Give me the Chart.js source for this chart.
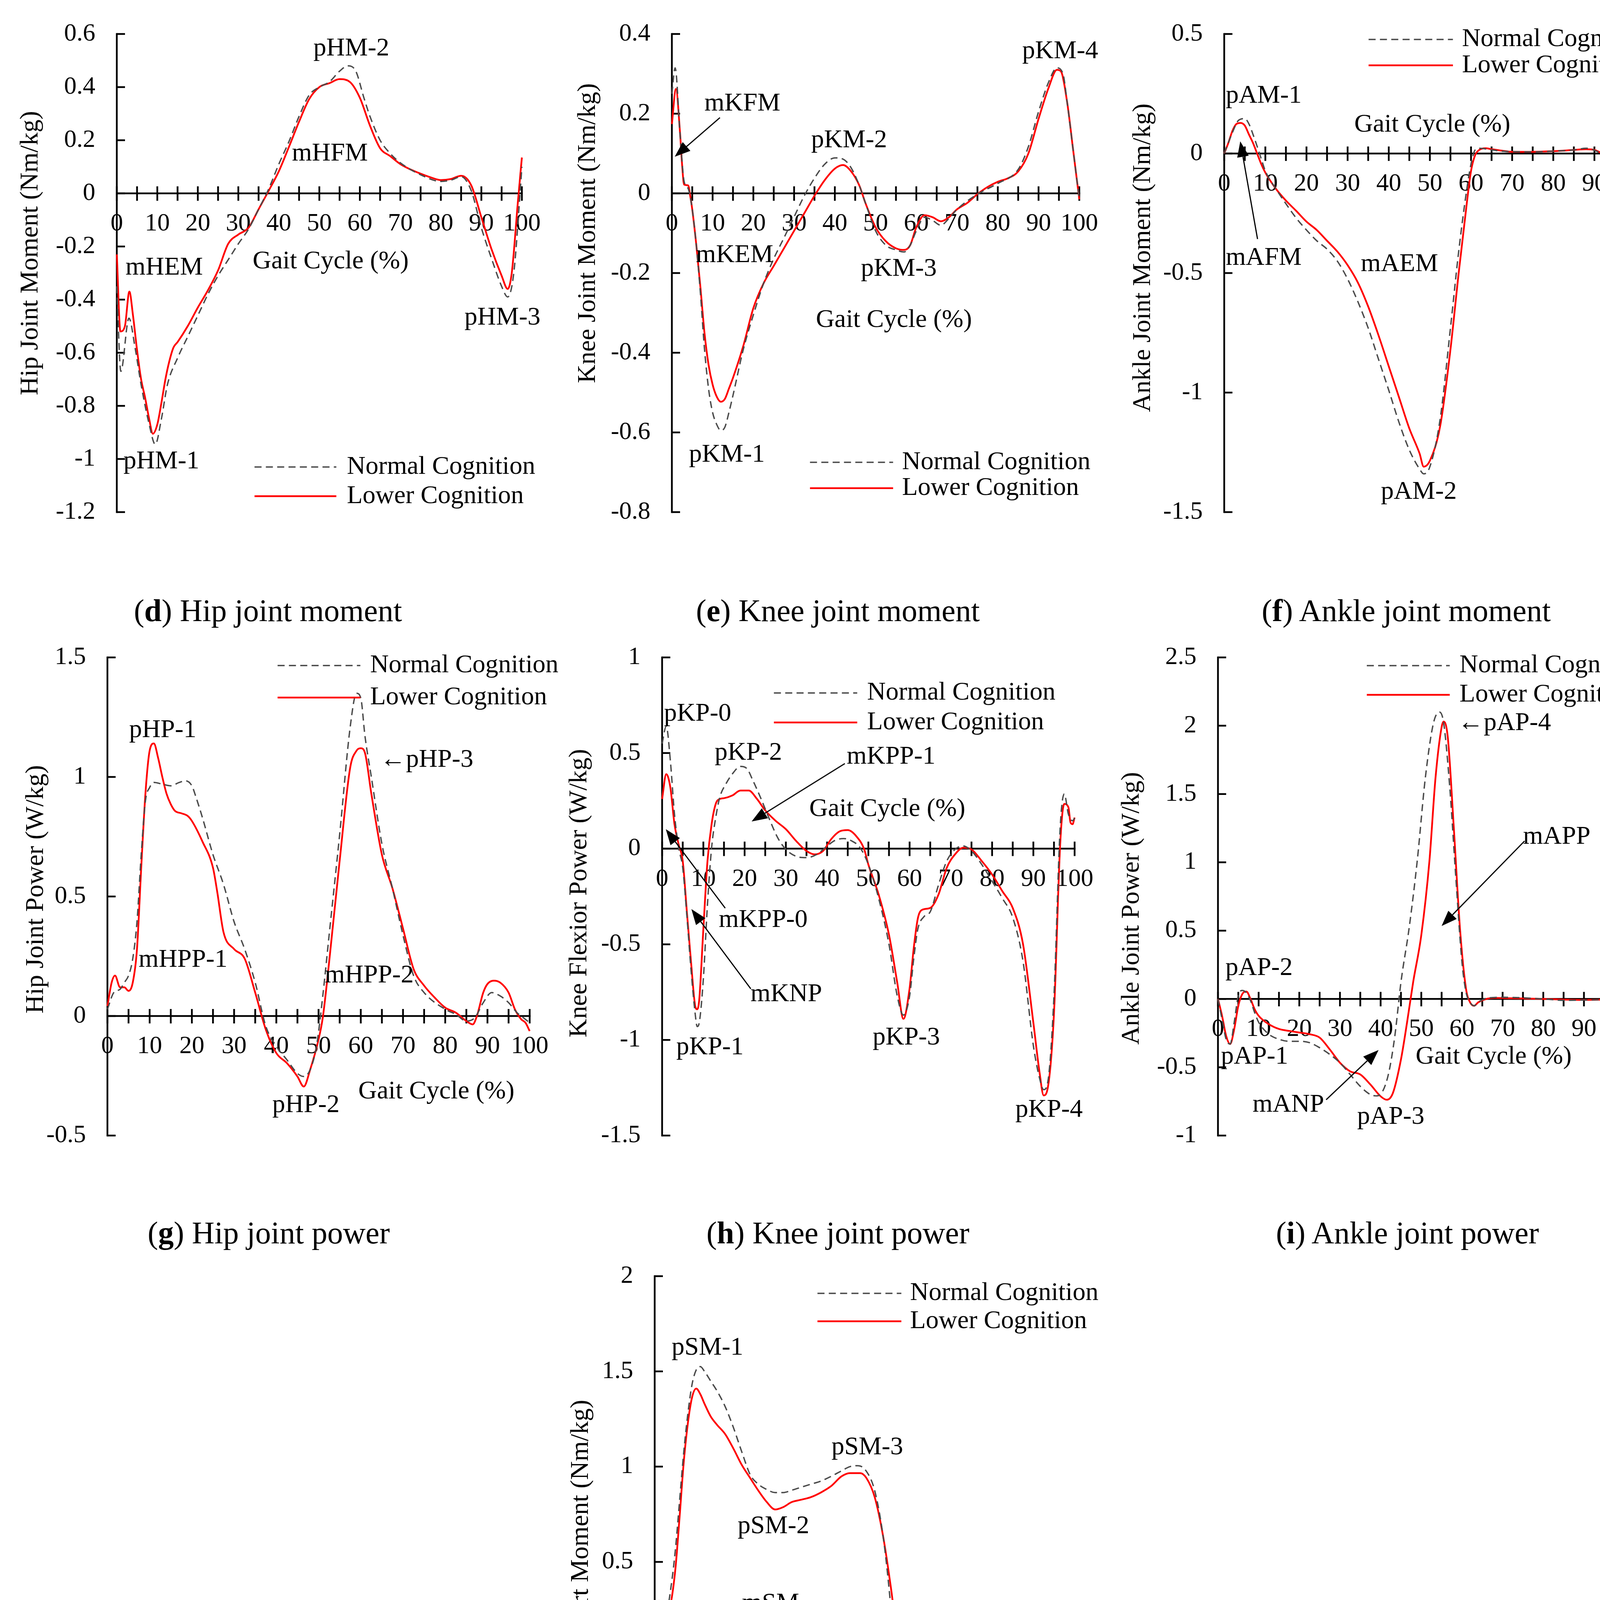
<!DOCTYPE html>
<html>
<head>
<meta charset="utf-8">
<title>Joint moments and powers</title>
<script src="https://cdn.jsdelivr.net/npm/chart.js@4.4.1/dist/chart.umd.min.js"></script>
<style>
  html, body { margin: 0; padding: 0; background: #fff; }
  body { position: relative; width: 4273px; height: 4819px; overflow: hidden;
         font-family: "Liberation Serif", "Times New Roman", serif; }
  canvas { position: absolute; }
  .cap { position: absolute; font-size: 80px; white-space: nowrap; color: #000;
         transform: translate(-50%, -50%); }
</style>
</head>
<body>

<div class="cap" style="left:686px;top:1563px">(<b>d</b>) Hip joint moment</div>
<div class="cap" style="left:2145px;top:1563px">(<b>e</b>) Knee joint moment</div>
<div class="cap" style="left:3600px;top:1563px">(<b>f</b>) Ankle joint moment</div>
<div class="cap" style="left:688px;top:3156px">(<b>g</b>) Hip joint power</div>
<div class="cap" style="left:2145px;top:3156px">(<b>h</b>) Knee joint power</div>
<div class="cap" style="left:3603px;top:3156px">(<b>i</b>) Ankle joint power</div>
<div class="cap" style="left:2142px;top:4746px">(<b>j</b>) Support moment</div>

<script>
// ---- tick labels ----
const xTicks = [0, 10, 20, 30, 40, 50, 60, 70, 80, 90, 100];
const xMinor = [0, 5, 10, 15, 20, 25, 30, 35, 40, 45, 50, 55, 60, 65, 70, 75, 80, 85, 90, 95, 100];
const dYTicks = [-1.2, -1, -0.8, -0.6, -0.4, -0.2, 0, 0.2, 0.4, 0.6];
const eYTicks = [-0.8, -0.6, -0.4, -0.2, 0, 0.2, 0.4];
const fYTicks = [-1.5, -1, -0.5, 0, 0.5];
const gYTicks = [-0.5, 0, 0.5, 1, 1.5];
const hYTicks = [-1.5, -1, -0.5, 0, 0.5, 1];
const iYTicks = [-1, -0.5, 0, 0.5, 1, 1.5, 2, 2.5];
const jYTicks = [-0.5, 0, 0.5, 1, 1.5, 2];

// ---- (d) hip joint moment ----
const dNormX = [0, 1, 3, 4.5, 6, 8, 9.5, 11, 12.5, 15, 17.5, 20, 22.5, 25, 27.5, 30, 32.5, 35, 37.5, 40, 42.5, 45, 47.5, 50, 52.5, 55, 57, 59, 61, 62.5, 65, 67.5, 70, 75, 80, 82.5, 85, 87.5, 90, 92.5, 95, 96.5, 98, 99.5, 100];
const dNormY = [-0.35, -0.67, -0.47, -0.58, -0.72, -0.87, -0.945, -0.85, -0.72, -0.62, -0.54, -0.46, -0.38, -0.31, -0.25, -0.19, -0.135, -0.06, 0.017, 0.11, 0.195, 0.29, 0.37, 0.40, 0.42, 0.46, 0.48, 0.46, 0.36, 0.29, 0.20, 0.15, 0.115, 0.07, 0.045, 0.05, 0.063, 0.01, -0.13, -0.245, -0.35, -0.39, -0.30, -0.01, 0.1];
const dLowX = [0, 0.9, 2, 3.1, 4, 5, 6, 7, 8, 8.9, 10, 11, 12, 13, 14, 15, 17.5, 20, 22.5, 25, 27.5, 30, 32.5, 35, 37.5, 40, 42.5, 45, 47.5, 50, 52.5, 55, 57.5, 60, 62.5, 65, 67.5, 70, 72.5, 75, 77.5, 80, 82.5, 85, 87.5, 90, 92.5, 95, 96.5, 97.5, 99, 100];
const dLowY = [-0.23, -0.52, -0.50, -0.37, -0.46, -0.59, -0.70, -0.77, -0.85, -0.905, -0.87, -0.79, -0.70, -0.63, -0.58, -0.56, -0.50, -0.43, -0.365, -0.29, -0.19, -0.155, -0.13, -0.06, 0.01, 0.083, 0.175, 0.27, 0.355, 0.40, 0.415, 0.43, 0.42, 0.36, 0.255, 0.17, 0.14, 0.11, 0.09, 0.074, 0.06, 0.05, 0.054, 0.066, 0.03, -0.09, -0.21, -0.31, -0.36, -0.30, -0.035, 0.135];

// ---- (e) knee joint moment ----
const eNormX = [0, 0.8, 2, 3, 4, 5, 6, 7, 8, 9, 10, 11, 12, 13, 14, 15, 17.5, 20, 22.5, 25, 27.5, 30, 32.5, 35, 37.5, 40, 42, 44, 46, 47.5, 50, 52.5, 55, 57, 58.5, 60, 62, 64, 66, 68, 70, 75, 80, 85, 87.5, 90, 92.5, 94.5, 96, 97, 98.5, 100];
const eNormY = [0.25, 0.315, 0.15, 0.03, 0.012, -0.04, -0.13, -0.25, -0.39, -0.49, -0.55, -0.58, -0.595, -0.587, -0.55, -0.507, -0.393, -0.305, -0.226, -0.164, -0.112, -0.059, -0.006, 0.038, 0.073, 0.089, 0.086, 0.064, 0.02, -0.024, -0.094, -0.13, -0.142, -0.147, -0.13, -0.094, -0.06, -0.068, -0.08, -0.063, -0.04, -0.002, 0.025, 0.06, 0.117, 0.205, 0.28, 0.315, 0.30, 0.23, 0.108, -0.015];
const eLowX = [0, 1, 2, 2.5, 3, 4, 4.5, 5, 6, 7, 8, 9, 10, 11, 12, 13, 14, 15, 17.5, 20, 22.5, 25, 27.5, 30, 32.5, 35, 37.5, 40, 42, 44, 46, 47.5, 50, 52.5, 55, 57, 58.5, 60, 62, 64, 66, 68, 70, 72.5, 75, 77.5, 80, 82.5, 85, 87.5, 90, 92.5, 94.5, 95.5, 97, 98.5, 100];
const eLowY = [0.174, 0.262, 0.152, 0.073, 0.022, 0.02, -0.006, -0.04, -0.13, -0.235, -0.35, -0.43, -0.48, -0.51, -0.523, -0.516, -0.49, -0.463, -0.384, -0.288, -0.226, -0.182, -0.138, -0.094, -0.05, -0.006, 0.033, 0.062, 0.071, 0.055, 0.02, -0.024, -0.085, -0.12, -0.138, -0.142, -0.13, -0.085, -0.055, -0.06, -0.07, -0.06, -0.04, -0.024, -0.002, 0.016, 0.029, 0.038, 0.055, 0.1, 0.187, 0.266, 0.31, 0.306, 0.23, 0.108, -0.015];

// ---- (f) ankle joint moment ----
const fNormX = [0, 2, 3.5, 5, 6, 7, 8, 9, 10, 12.5, 15, 17.5, 20, 22.5, 25, 27.5, 30, 32.5, 35, 37.5, 40, 42.5, 45, 47.5, 48.5, 50, 52.5, 55, 57, 59, 60, 61, 62, 64, 67.5, 75, 80, 85, 88, 92, 95, 98, 100];
const fNormY = [0, 0.088, 0.139, 0.146, 0.124, 0.08, 0.03, -0.022, -0.073, -0.146, -0.21, -0.27, -0.32, -0.365, -0.40, -0.45, -0.525, -0.62, -0.73, -0.86, -0.99, -1.125, -1.24, -1.32, -1.34, -1.31, -1.11, -0.73, -0.41, -0.146, -0.044, 0.015, 0.022, 0.018, 0.01, 0.007, 0.01, 0.015, 0.022, 0, -0.012, -0.003, 0.003];
const fLowX = [0, 1, 2, 3, 4, 5, 6, 7, 8, 9, 10, 12.5, 15, 17.5, 20, 22.5, 25, 27.5, 30, 32.5, 35, 37.5, 40, 42.5, 45, 47.5, 48.5, 50, 52.5, 55, 57, 59, 60, 61, 62, 63.5, 65, 67.5, 70, 75, 80, 85, 88, 90, 92, 94, 96, 98, 100];
const fLowY = [0, 0.044, 0.095, 0.124, 0.128, 0.117, 0.08, 0.044, 0, -0.044, -0.08, -0.146, -0.197, -0.24, -0.285, -0.32, -0.365, -0.41, -0.467, -0.54, -0.64, -0.76, -0.89, -1.02, -1.15, -1.255, -1.31, -1.285, -1.14, -0.82, -0.50, -0.204, -0.073, -0.007, 0.015, 0.022, 0.018, 0.012, 0.007, 0.007, 0.01, 0.015, 0.018, 0.015, 0, -0.01, -0.009, -0.003, 0.003];

// ---- (g) hip joint power ----
const gNormX = [0, 1.5, 3, 4, 5, 6, 7, 8, 9, 10, 11, 13, 15, 17, 18.5, 20, 21, 22.5, 25, 27.5, 30, 32.5, 35, 37.5, 40, 42.5, 45, 46.5, 48, 49.5, 51, 52.5, 55, 57.5, 59, 60, 61, 62.5, 65, 67.5, 70, 72.5, 75, 80, 82.5, 85, 87, 89, 91, 93, 95, 97, 99, 100];
const gNormY = [0.028, 0.098, 0.112, 0.14, 0.169, 0.24, 0.394, 0.675, 0.90, 0.956, 0.977, 0.97, 0.963, 0.977, 0.984, 0.963, 0.914, 0.83, 0.675, 0.55, 0.394, 0.28, 0.14, -0.042, -0.127, -0.183, -0.24, -0.253, -0.225, -0.127, 0.084, 0.338, 0.76, 1.21, 1.35, 1.33, 1.17, 1.0, 0.72, 0.534, 0.338, 0.169, 0.098, 0.028, 0.007, -0.021, -0.007, 0.056, 0.098, 0.084, 0.056, 0.014, -0.014, -0.028];
const gLowX = [0, 1, 1.8, 3, 4, 5, 6, 7, 8, 9, 10, 11, 12, 13, 14, 15, 16, 17.5, 19, 20, 22.5, 25, 26, 27.5, 30, 32.5, 35, 37.5, 40, 42.5, 45, 46.5, 48, 50, 51, 52.5, 55, 57.5, 59, 60, 61, 62.5, 65, 67.5, 70, 72.5, 75, 77.5, 80, 82.5, 85, 86.5, 87.5, 89, 90, 91.5, 93, 95, 96.5, 98, 99, 100];
const gLowY = [0.042, 0.14, 0.169, 0.12, 0.12, 0.105, 0.14, 0.28, 0.62, 0.93, 1.11, 1.14, 1.08, 1.0, 0.93, 0.886, 0.858, 0.848, 0.837, 0.816, 0.73, 0.62, 0.52, 0.35, 0.28, 0.24, 0.098, -0.056, -0.155, -0.197, -0.253, -0.295, -0.225, -0.098, -0.007, 0.225, 0.65, 1.04, 1.11, 1.12, 1.10, 0.93, 0.675, 0.534, 0.366, 0.197, 0.127, 0.077, 0.035, 0.014, -0.021, -0.035, 0, 0.098, 0.134, 0.148, 0.14, 0.098, 0.028, -0.014, -0.028, -0.063];

// ---- (h) knee flexor power ----
const hNormX = [0, 1, 2, 3, 4, 5, 6, 7, 8, 8.5, 9, 10, 11, 12, 13, 14, 15.5, 17, 19, 20.5, 22, 24, 26, 28, 30, 32.5, 35, 37.5, 40, 42, 44, 46, 48, 50, 52.5, 55, 57, 58.5, 60, 61, 62, 63.5, 65, 67, 69, 71, 73, 75, 77.5, 80, 82.5, 85, 87.5, 90, 91.5, 92.5, 93.5, 95, 96.5, 97.5, 98.5, 99.5, 100];
const hNormY = [0.55, 0.64, 0.46, 0.18, 0.005, -0.1, -0.35, -0.63, -0.86, -0.93, -0.91, -0.68, -0.29, 0.005, 0.163, 0.27, 0.34, 0.39, 0.43, 0.42, 0.357, 0.26, 0.155, 0.058, -0.004, -0.04, -0.047, -0.03, 0.014, 0.044, 0.053, 0.04, 0.005, -0.083, -0.26, -0.50, -0.77, -0.87, -0.77, -0.575, -0.42, -0.355, -0.33, -0.19, -0.065, -0.004, 0.014, -0.012, -0.083, -0.17, -0.26, -0.36, -0.59, -1.03, -1.2, -1.26, -1.22, -0.77, 0.11, 0.286, 0.18, 0.146, 0.16];
const hLowX = [0, 1, 2, 3, 4, 5, 6, 7, 8, 8.5, 9, 10, 11, 12, 13, 14, 15, 17, 19, 21, 23, 25, 27.5, 30, 32.5, 35, 37, 39, 41, 43, 45, 47, 49, 50, 52.5, 55, 57, 58.5, 60, 61, 62, 63, 65, 67, 69, 71, 73, 75, 77.5, 80, 82.5, 85, 87.5, 90, 91.5, 92.5, 93.5, 95, 96.5, 97.5, 98.5, 99, 99.5, 100];
const hLowY = [0.26, 0.39, 0.32, 0.128, 0.023, -0.065, -0.33, -0.59, -0.82, -0.84, -0.79, -0.42, -0.065, 0.128, 0.234, 0.26, 0.264, 0.278, 0.304, 0.304, 0.26, 0.20, 0.146, 0.102, 0.04, -0.012, -0.03, -0.012, 0.05, 0.09, 0.097, 0.067, -0.004, -0.083, -0.24, -0.45, -0.70, -0.89, -0.73, -0.52, -0.364, -0.32, -0.31, -0.24, -0.10, -0.03, 0.005, -0.004, -0.065, -0.135, -0.223, -0.31, -0.50, -0.91, -1.17, -1.29, -1.25, -0.86, 0.023, 0.234, 0.216, 0.137, 0.128, 0.163];

// ---- (i) ankle joint power ----
const iNormX = [0, 1, 2, 3, 4, 5, 6, 7, 8, 9, 10, 12.5, 15, 17.5, 20, 22.5, 25, 27.5, 30, 32.5, 35, 37.5, 39, 40.5, 42, 43.5, 45, 47, 49, 51, 53, 54.5, 55.5, 57, 58.5, 60, 61, 62, 63, 64, 66, 70, 80, 85, 90, 100];
const iNormY = [0, -0.148, -0.295, -0.33, -0.17, 0.025, 0.062, 0.044, -0.012, -0.098, -0.17, -0.258, -0.295, -0.31, -0.31, -0.32, -0.357, -0.406, -0.467, -0.553, -0.64, -0.70, -0.71, -0.676, -0.54, -0.27, 0.123, 0.517, 1.01, 1.62, 2.02, 2.10, 2.02, 1.55, 0.886, 0.27, 0.05, -0.025, -0.05, -0.025, 0.005, 0.012, 0, -0.01, -0.008, 0];
const iLowX = [0, 1, 2, 3, 4, 5, 6, 7, 8, 9, 10, 12.5, 15, 17.5, 20, 22.5, 25, 27.5, 30, 32.5, 35, 37.5, 40, 41.5, 43, 45, 46.5, 48, 50, 52, 53.5, 55, 55.5, 56.5, 58, 59.5, 61, 62, 63, 64, 66, 68, 72, 80, 85, 90, 100];
const iLowY = [0, -0.123, -0.27, -0.33, -0.22, -0.05, 0.037, 0.054, 0, -0.074, -0.123, -0.185, -0.22, -0.234, -0.246, -0.258, -0.283, -0.37, -0.467, -0.53, -0.553, -0.627, -0.713, -0.738, -0.69, -0.443, -0.172, 0.123, 0.467, 1.01, 1.62, 1.99, 2.03, 1.92, 1.25, 0.52, 0.074, -0.025, -0.05, -0.025, 0, 0.007, 0.005, 0, -0.005, -0.007, 0];

// ---- (j) support moment ----
const jNormX = [0, 1, 2, 3, 4, 5, 6, 7, 8, 9, 10, 11, 12, 13.5, 15, 17, 19, 21, 23, 25, 27, 29, 31, 33, 35, 37.5, 40, 42.5, 45, 47, 49, 51, 53, 55, 56.5, 57.5, 58.5, 59.5, 60.5, 61.5, 63, 65, 67.5, 70, 75, 80, 82.5, 85, 86, 87.5, 90, 92.5, 94, 95.5, 96.5, 97.5, 99, 100];
const jNormY = [0.15, 0.297, 0.28, 0.263, 0.38, 0.568, 0.822, 1.076, 1.28, 1.432, 1.508, 1.525, 1.50, 1.449, 1.398, 1.314, 1.203, 1.076, 0.958, 0.907, 0.88, 0.864, 0.864, 0.876, 0.89, 0.907, 0.924, 0.949, 0.978, 1.0, 1.005, 0.975, 0.873, 0.636, 0.347, 0.093, -0.127, -0.229, -0.246, -0.22, -0.16, -0.10, -0.08, -0.076, -0.076, -0.085, -0.10, -0.136, -0.144, -0.11, -0.025, 0.017, 0.05, 0.085, 0.076, 0.008, -0.076, -0.11];
const jLowX = [0, 1, 2, 3, 4, 5, 6, 7, 8, 9, 10, 11, 12, 13.5, 15, 17, 19, 21, 23, 25, 27, 29, 31, 33, 35, 37.5, 40, 42.5, 45, 47, 49.5, 51, 53, 55, 57, 58.5, 59.5, 60.5, 61.5, 63, 65, 67.5, 70, 72.5, 75, 77.5, 80, 82.5, 85, 86, 87.5, 90, 92.5, 94, 95.5, 96.5, 97.5, 99, 100];
const jLowY = [0.06, 0.195, 0.22, 0.212, 0.297, 0.466, 0.737, 1.025, 1.23, 1.364, 1.41, 1.38, 1.33, 1.263, 1.22, 1.17, 1.093, 1.008, 0.94, 0.873, 0.814, 0.775, 0.788, 0.814, 0.825, 0.839, 0.864, 0.898, 0.949, 0.966, 0.966, 0.94, 0.839, 0.636, 0.347, 0.093, -0.076, -0.178, -0.195, -0.16, -0.11, -0.09, -0.08, -0.076, -0.076, -0.08, -0.085, -0.10, -0.136, -0.144, -0.11, -0.042, -0.008, 0.025, 0.06, 0.06, 0.008, -0.076, -0.127];

const FAMILY = '"Liberation Serif", "Times New Roman", serif';
const RED = '#ff0000';
const GREY = '#4a4a4a';
const DASH = [18, 11];
const PAD = { left: 320, right: 170, top: 100, bottom: 110 };
const Y_BOX = 260;   // width reserved for the y tick labels

// panel layout: L/R/T/B are the pixel edges of the axes on the page
const panels = [
  { id: 'd', L: 299, R: 1336, T: 87, B: 1311, yTicks: dYTicks, yTitle: 'Hip Joint Moment (Nm/kg)',
    titleOff: 220, titleY: -0.225,
    norm: [dNormX, dNormY], low: [dLowX, dLowY],
    legend: { x1: 34, x2: 54.2, xt: 56.8, yN: -1.03, yL: -1.14 },
    notes: [['pHM-2', 57.9, 0.545], ['mHFM', 52.6, 0.149], ['mHEM', 11.7, -0.28], ['Gait Cycle (%)', 52.8, -0.257],
            ['pHM-3', 95.2, -0.468], ['pHM-1', 11, -1.01]],
    arrows: [] },
  { id: 'e', L: 1720, R: 2763, T: 87, B: 1311, yTicks: eYTicks, yTitle: 'Knee Joint Moment (Nm/kg)',
    titleOff: 214, titleY: -0.10,
    norm: [eNormX, eNormY], low: [eLowX, eLowY],
    legend: { x1: 33.9, x2: 54.3, xt: 56.5, yN: -0.675, yL: -0.74 },
    notes: [['mKFM', 17.3, 0.225], ['pKM-2', 43.5, 0.133], ['pKM-4', 95.3, 0.356], ['mKEM', 15.4, -0.156],
            ['pKM-3', 55.7, -0.19], ['Gait Cycle (%)', 54.5, -0.318], ['pKM-1', 13.5, -0.657]],
    arrows: [[11.8, 0.19, 0.7, 0.092]] },
  { id: 'f', L: 3134, R: 4187, T: 87, B: 1311, yTicks: fYTicks, yTitle: 'Ankle Joint Moment (Nm/kg)',
    titleOff: 207, titleY: -0.436,
    norm: [fNormX, fNormY], low: [fLowX, fLowY],
    legend: { x1: 35.1, x2: 55.6, xt: 57.8, yN: 0.477, yL: 0.369 },
    notes: [['pAM-1', 9.6, 0.24], ['Gait Cycle (%)', 50.6, 0.12], ['mAFM', 9.6, -0.438], ['mAEM', 42.6, -0.463],
            ['pAM-2', 47.3, -1.416]],
    arrows: [[8.1, -0.358, 3.9, 0.051]] },
  { id: 'g', L: 275, R: 1356, T: 1683, B: 2907, yTicks: gYTicks, yTitle: 'Hip Joint Power (W/kg)',
    titleOff: 182, titleY: 0.53,
    norm: [gNormX, gNormY], low: [gLowX, gLowY],
    legend: { x1: 40.3, x2: 59.9, xt: 62.2, yN: 1.466, yL: 1.332 },
    notes: [['pHP-1', 13.1, 1.195], ['\u2190pHP-3', 64.6, 1.07, 'left'], ['mHPP-1', 17.9, 0.235], ['mHPP-2', 62, 0.169],
            ['pHP-2', 47, -0.373], ['Gait Cycle (%)', 77.9, -0.316]],
    arrows: [] },
  { id: 'h', L: 1695, R: 2751, T: 1683, B: 2907, yTicks: hYTicks, yTitle: 'Knee Flexior Power (W/kg)',
    titleOff: 211, titleY: -0.233,
    norm: [hNormX, hNormY], low: [hLowX, hLowY],
    legend: { x1: 27.1, x2: 47.3, xt: 49.7, yN: 0.814, yL: 0.66 },
    notes: [['pKP-0', 8.6, 0.705], ['pKP-2', 20.9, 0.50], ['mKPP-1', 55.5, 0.48], ['Gait Cycle (%)', 54.6, 0.207],
            ['mKPP-0', 24.5, -0.373], ['mKNP', 30.1, -0.763], ['pKP-1', 11.6, -1.04], ['pKP-3', 59.2, -0.988],
            ['pKP-4', 93.8, -1.366]],
    arrows: [[44.3, 0.445, 21.7, 0.142], [15.3, -0.311, 0.9, 0.102], [21.5, -0.733, 7.1, -0.316]] },
  { id: 'i', L: 3118, R: 4159, T: 1683, B: 2907, yTicks: iYTicks, yTitle: 'Ankle Joint Power (W/kg)',
    titleOff: 220, titleY: 0.663,
    norm: [iNormX, iNormY], low: [iLowX, iLowY],
    legend: { x1: 36.6, x2: 57, xt: 59.4, yN: 2.44, yL: 2.226 },
    notes: [['\u2190pAP-4', 59, 2.017, 'left'], ['mAPP', 83.3, 1.186], ['pAP-2', 10.1, 0.226], ['pAP-1', 9, -0.423],
            ['Gait Cycle (%)', 67.8, -0.423], ['mANP', 17.3, -0.775], ['pAP-3', 42.5, -0.866]],
    arrows: [[75.4, 1.156, 55, 0.534], [26.6, -0.738, 39.5, -0.374]] },
  { id: 'j', L: 1676, R: 2739, T: 3267, B: 4486, yTicks: jYTicks, yTitle: 'Support Moment (Nm/kg)',
    titleOff: 188, titleY: 0.641,
    norm: [jNormX, jNormY], low: [jLowX, jLowY],
    legend: { x1: 39.2, x2: 59.4, xt: 61.5, yN: 1.91, yL: 1.763 },
    notes: [['pSM-1', 12.7, 1.624], ['pSM-3', 51.2, 1.10], ['pSM-2', 28.6, 0.686], ['mSM', 27.9, 0.28],
            ['Gait Cycle (%)', 53, -0.339]],
    arrows: [] }
];

function pairs(xs, ys) {
  return xs.map((x, i) => ({ x: x, y: ys[i] }));
}

function fmt(v) {
  return String(Math.round(v * 100) / 100);
}

function decor(p) {
  return {
    id: 'decor' + p.id,
    beforeDatasetsDraw(chart) {
      const { ctx, scales: { x, y } } = chart;
      const x0 = x.getPixelForValue(0), x100 = x.getPixelForValue(100);
      const y0 = y.getPixelForValue(0);
      const yTop = y.getPixelForValue(y.max), yBot = y.getPixelForValue(y.min);
      ctx.save();
      ctx.strokeStyle = '#000';
      ctx.lineWidth = 4.5;
      ctx.lineCap = 'square';
      ctx.beginPath();
      ctx.moveTo(x0, yTop); ctx.lineTo(x0, yBot);
      ctx.moveTo(x0, y0); ctx.lineTo(x100, y0);
      ctx.stroke();
      ctx.lineCap = 'butt';
      ctx.beginPath();
      xMinor.forEach(v => {
        const xx = x.getPixelForValue(v);
        ctx.moveTo(xx, y0 - 18); ctx.lineTo(xx, y0 + 19);
      });
      p.yTicks.forEach(v => {
        const yy = y.getPixelForValue(v);
        ctx.moveTo(x0, yy); ctx.lineTo(x0 + 21, yy);
      });
      ctx.stroke();
      ctx.restore();
    },
    afterDatasetsDraw(chart) {
      const { ctx, scales: { x, y } } = chart;
      const X = v => x.getPixelForValue(v), Y = v => y.getPixelForValue(v);
      ctx.save();
      // y axis title
      ctx.fillStyle = '#000';
      ctx.font = '66px ' + FAMILY;
      ctx.textAlign = 'center';
      ctx.textBaseline = 'middle';
      ctx.save();
      ctx.translate(X(0) - p.titleOff, Y(p.titleY));
      ctx.rotate(-Math.PI / 2);
      ctx.fillText(p.yTitle, 0, 0);
      ctx.restore();

      // annotations
      p.notes.forEach(n => {
        ctx.textAlign = n[3] || 'center';
        ctx.fillText(n[0], X(n[1]), Y(n[2]));
      });

      // arrows
      ctx.strokeStyle = '#000';
      ctx.lineWidth = 3;
      p.arrows.forEach(a => {
        const ax = X(a[0]), ay = Y(a[1]), bx = X(a[2]), by = Y(a[3]);
        const ang = Math.atan2(by - ay, bx - ax);
        const hl = 40, hw = 15;
        const baseX = bx - hl * Math.cos(ang), baseY = by - hl * Math.sin(ang);
        ctx.beginPath();
        ctx.moveTo(ax, ay); ctx.lineTo(baseX, baseY);
        ctx.stroke();
        ctx.beginPath();
        ctx.moveTo(bx, by);
        ctx.lineTo(baseX + hw * Math.sin(ang), baseY - hw * Math.cos(ang));
        ctx.lineTo(baseX - hw * Math.sin(ang), baseY + hw * Math.cos(ang));
        ctx.closePath();
        ctx.fillStyle = '#000';
        ctx.fill();
      });

      // legend
      const lg = p.legend;
      const ds = chart.data.datasets;
      ctx.lineWidth = 3.5;
      ctx.strokeStyle = GREY;
      ctx.setLineDash(DASH);
      ctx.beginPath();
      ctx.moveTo(X(lg.x1), Y(lg.yN)); ctx.lineTo(X(lg.x2), Y(lg.yN));
      ctx.stroke();
      ctx.setLineDash([]);
      ctx.lineWidth = 4.5;
      ctx.strokeStyle = RED;
      ctx.beginPath();
      ctx.moveTo(X(lg.x1), Y(lg.yL)); ctx.lineTo(X(lg.x2), Y(lg.yL));
      ctx.stroke();
      ctx.fillStyle = '#000';
      ctx.textAlign = 'left';
      ctx.fillText(ds[0].label, X(lg.xt), Y(lg.yN));
      ctx.fillText(ds[1].label, X(lg.xt), Y(lg.yL));
      ctx.restore();
    }
  };
}

function makePanel(p) {
  const w = p.R - p.L + PAD.left + PAD.right;
  const h = p.B - p.T + PAD.top + PAD.bottom;
  const cv = document.createElement('canvas');
  cv.width = w; cv.height = h;
  cv.style.width = w + 'px'; cv.style.height = h + 'px';
  cv.style.left = (p.L - PAD.left) + 'px';
  cv.style.top = (p.T - PAD.top) + 'px';
  document.body.appendChild(cv);

  const tickFont = { family: FAMILY, size: 64 };
  new Chart(cv, {
    type: 'line',
    data: {
      datasets: [
        { label: 'Normal Cognition', data: pairs(p.norm[0], p.norm[1]), borderColor: GREY, borderWidth: 3.5,
          borderDash: DASH, pointRadius: 0, tension: 0.4, cubicInterpolationMode: 'monotone', clip: false },
        { label: 'Lower Cognition', data: pairs(p.low[0], p.low[1]), borderColor: RED, borderWidth: 4.5,
          pointRadius: 0, tension: 0.4, cubicInterpolationMode: 'monotone', clip: false }
      ]
    },
    options: {
      responsive: false,
      animation: false,
      devicePixelRatio: 1,
      events: [],
      layout: { padding: { left: PAD.left - Y_BOX, right: PAD.right, top: PAD.top, bottom: PAD.bottom } },
      plugins: { legend: { display: false }, tooltip: { enabled: false } },
      scales: {
        x: {
          type: 'linear', min: 0, max: 100, position: { y: 0 },
          grid: { display: false, drawTicks: false }, border: { display: false },
          ticks: { color: '#000', font: tickFont, padding: 40, maxRotation: 0, autoSkip: false, callback: fmt },
          afterBuildTicks: s => { s.ticks = xTicks.map(v => ({ value: v })); },
          afterFit: s => { s.height = 0; }
        },
        y: {
          type: 'linear', min: p.yTicks[0], max: p.yTicks[p.yTicks.length - 1],
          grid: { display: false, drawTicks: false }, border: { display: false },
          ticks: { color: '#000', font: tickFont, padding: 55, autoSkip: false, callback: fmt },
          afterBuildTicks: s => { s.ticks = p.yTicks.map(v => ({ value: v })); },
          afterFit: s => { s.width = Y_BOX; }
        }
      }
    },
    plugins: [decor(p)]
  });
}

panels.forEach(makePanel);
</script>
</body>
</html>
